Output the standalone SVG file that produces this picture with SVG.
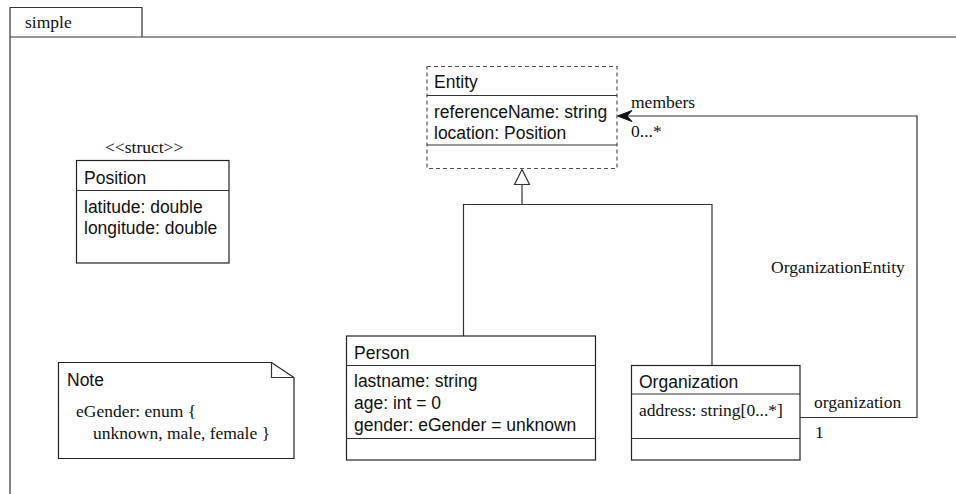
<svg xmlns="http://www.w3.org/2000/svg" width="956" height="494" viewBox="0 0 956 494">
<style>
.box{fill:#fff;stroke:#222;stroke-width:1.2}
.ln{fill:none;stroke:#333;stroke-width:1.2}
.dash{fill:#fff;stroke:#555;stroke-width:1.2;stroke-dasharray:4,3}
.sans{font-family:"Liberation Sans",Arial,sans-serif;font-size:17.5px;fill:#111}
.serif{font-family:"Liberation Serif","Times New Roman",serif;font-size:17.5px;fill:#111}
</style>
<rect width="956" height="494" fill="#fff"/>
<g id="frame">
<path class="ln" d="M10,494 L10,7.5 L142,7.5 L142,37 M10,37 L956,37"/>
<text class="serif" x="25" y="28">simple</text>
</g>
<g id="connectors">
<path class="ln" d="M522,204.5 L522,184.5"/>
<path d="M522,169.5 L529.5,184.5 L514.5,184.5 Z" fill="#fff" stroke="#333" stroke-width="1.2"/>
<path class="ln" d="M463.5,336 L463.5,204.5 L712,204.5 L712,365.5"/>
<path class="ln" d="M800,417.5 L917,417.5 L917,116 L626,116"/>
<path d="M617.5,116 L632,110.5 L627,116 L632,121.5 Z" fill="#111" stroke="#111" stroke-width="1"/>
<text class="serif" x="631" y="108">members</text>
<text class="serif" x="631" y="137">0...*</text>
<text class="serif" x="771" y="273">OrganizationEntity</text>
<text class="serif" x="814" y="408">organization</text>
<text class="serif" x="815" y="438">1</text>
</g>
<g id="Entity">
<rect class="dash" x="427" y="66.5" width="190" height="102"/>
<path class="ln" d="M427,95.5 L617,95.5 M427,145 L617,145"/>
<text class="sans" x="434" y="88">Entity</text>
<text class="sans" x="434" y="118">referenceName: string</text>
<text class="sans" x="434" y="138.5">location: Position</text>
</g>
<g id="Position">
<text class="serif" x="105" y="153">&lt;&lt;struct&gt;&gt;</text>
<rect class="box" x="76.5" y="160.5" width="152.5" height="102.5"/>
<path class="ln" d="M76.5,190.5 L229,190.5"/>
<text class="sans" x="84" y="184">Position</text>
<text class="sans" x="84" y="213">latitude: double</text>
<text class="sans" x="84" y="234">longitude: double</text>
</g>
<g id="Person">
<rect class="box" x="346.5" y="336" width="249" height="124"/>
<path class="ln" d="M346.5,365.5 L595.5,365.5 M346.5,438.5 L595.5,438.5"/>
<text class="sans" x="354" y="359">Person</text>
<text class="sans" x="354" y="387">lastname: string</text>
<text class="sans" x="354" y="409">age: int = 0</text>
<text class="sans" x="354" y="430.5">gender: eGender = unknown</text>
</g>
<g id="Organization">
<rect class="box" x="631.5" y="365.5" width="168.5" height="94.5"/>
<path class="ln" d="M631.5,394 L800,394 M631.5,438.5 L800,438.5"/>
<text class="sans" x="639" y="388">Organization</text>
<text class="serif" x="639" y="416">address: string[0...*]</text>
</g>
<g id="Note">
<path class="box" d="M58.5,362.5 L271.5,362.5 L294,377.5 L294,458.5 L58.5,458.5 Z"/>
<path class="ln" d="M271.5,362.5 L271.5,377.5 L294,377.5"/>
<text class="sans" x="67" y="386">Note</text>
<text class="serif" x="76" y="417">eGender: enum {</text>
<text class="serif" x="93" y="438.5">unknown, male, female }</text>
</g>
</svg>
